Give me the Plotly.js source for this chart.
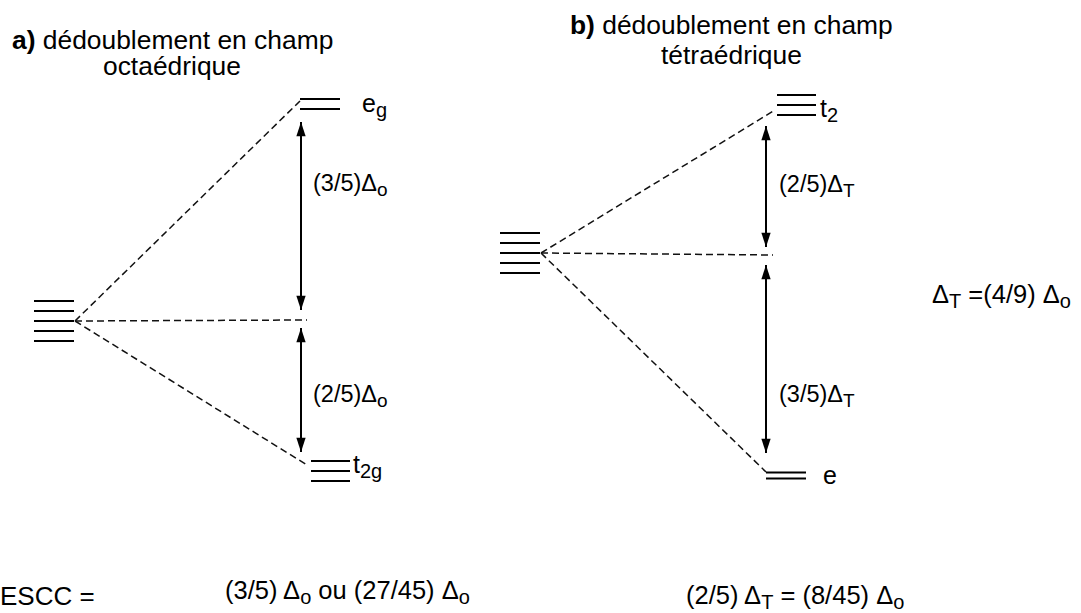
<!DOCTYPE html>
<html>
<head>
<meta charset="utf-8">
<script src="https://cdn.plot.ly/plotly-3.0.1.min.js"></script>
<style>
html, body { margin: 0; padding: 0; background: #ffffff; }
#chart { width: 1081px; height: 613px; }
</style>
</head>
<body>
<div id="chart"></div>
<script>
// ---------------- values ----------------
// Energies are in figure units (higher value = higher energy).
// a) octahedral field: free ion (5 d orbitals), e_g, t_2g
const octaLevelNames = ['', 'e<sub>g</sub>', 't<sub>2g</sub>'];
const octaLevelEnergy = [292, 509, 142];
const octaLevelDegeneracy = [5, 2, 3];
const octaGapLabels = ['(3/5)Δ<sub>o</sub>', '(2/5)Δ<sub>o</sub>'];
const octaArrowTop = [491, 285];
const octaArrowBottom = [303, 161];
const octaConnectorEnd = [512, 293, 148];   // e_g, barycentre, t_2g

// b) tetrahedral field: free ion (5 d orbitals), t_2, e
const tetraLevelNames = ['', 't<sub>2</sub>', 'e'];
const tetraLevelEnergy = [360, 508, 137.5];
const tetraLevelDegeneracy = [5, 3, 2];
const tetraGapLabels = ['(2/5)Δ<sub>T</sub>', '(3/5)Δ<sub>T</sub>'];
const tetraArrowTop = [487, 348];
const tetraArrowBottom = [366, 160];
const tetraConnectorEnd = [503, 358, 141];  // t_2, barycentre, e

// texts
const titleA = ['<b>a)</b> dédoublement en champ', 'octaédrique'];
const titleB = ['<b>b)</b> dédoublement en champ', 'tétraédrique'];
const relationText = 'Δ<sub>T</sub> =(4/9) Δ<sub>o</sub>';
const esccLabel = 'ESCC =';
const esccOcta = '(3/5) Δ<sub>o</sub> ou (27/45) Δ<sub>o</sub>';
const esccTetra = '(2/5) Δ<sub>T</sub> = (8/45) Δ<sub>o</sub>';

// ---------------- layout (positions & styles) ----------------
const W = 1081, H = 613;
const FONT = 'Liberation Sans, Arial, Helvetica, sans-serif';
const E = py => H - py;  // convert a top-down figure offset to the energy axis

const octaGeom = {
  levelX: [[34, 74], [300, 340], [311, 350]],
  spacing: [10, 10, 10],
  apexX: 75,
  connectorEndX: [300, 307, 307],
  arrowX: 301,
  labelX: [0, 360, 351],
  labelDy: [0, -1, 5],
  gapLabelX: 311,
  gapLabelY: [E(185), E(396)]
};
const tetraGeom = {
  levelX: [[500, 540], [777, 816], [766, 806]],
  spacing: [10, 10, 6],
  apexX: 541,
  connectorEndX: [775, 773, 766],
  arrowX: 766,
  labelX: [0, 818, 821],
  labelDy: [0, -5, 1],
  gapLabelX: 777,
  gapLabelY: [E(186), E(396)]
};

const traces = [];

function addDiagram(names, energy, deg, arrowTop, arrowBottom, connEnd, g) {
  // energy levels (one short line per orbital)
  const lx = [], ly = [];
  energy.forEach((en, i) => {
    for (let k = 0; k < deg[i]; k++) {
      const y = en + g.spacing[i] * ((deg[i] - 1) / 2 - k);
      lx.push(g.levelX[i][0], g.levelX[i][1], null);
      ly.push(y, y, null);
    }
  });
  traces.push({x: lx, y: ly, mode: 'lines', type: 'scatter', hoverinfo: 'skip',
    line: {color: '#000', width: 2.2}, showlegend: false});

  // dashed correlation lines from the free-ion level
  const dx = [], dy = [];
  connEnd.forEach((en, i) => {
    dx.push(g.apexX, g.connectorEndX[i], null);
    dy.push(energy[0], en, null);
  });
  traces.push({x: dx, y: dy, mode: 'lines', type: 'scatter', hoverinfo: 'skip',
    line: {color: '#111', width: 1.5, dash: '7px,4px'}, showlegend: false});

  // double-headed arrows
  arrowTop.forEach((t, i) => {
    traces.push({x: [g.arrowX, g.arrowX], y: [t, arrowBottom[i]], type: 'scatter',
      mode: 'lines+markers', hoverinfo: 'skip', showlegend: false,
      line: {color: '#000', width: 2},
      marker: {symbol: 'arrow', size: 15, color: '#000', angle: [0, 180]}});
  });
}

addDiagram(octaLevelNames, octaLevelEnergy, octaLevelDegeneracy, octaArrowTop, octaArrowBottom, octaConnectorEnd, octaGeom);
addDiagram(tetraLevelNames, tetraLevelEnergy, tetraLevelDegeneracy, tetraArrowTop, tetraArrowBottom, tetraConnectorEnd, tetraGeom);

const annotations = [];
function txt(text, x, y, size, xanchor, extra) {
  // subscripts drawn at ~80% of the main size (as in the reference)
  const subSize = Math.round(size * 0.8);
  const styled = text.replace(/<sub>(.*?)<\/sub>/g,
    '<sub><span style="font-size:' + subSize + 'px">$1</span></sub>');
  annotations.push(Object.assign({text: styled, x: x, y: y, xref: 'x', yref: 'y',
    showarrow: false, xanchor: xanchor || 'left', yanchor: 'middle',
    font: {family: FONT, size: size, color: '#000'}}, extra || {}));
}

// level names and gap labels
function labelDiagram(names, energy, gapLabels, g) {
  names.forEach((n, i) => { if (n) txt(n, g.labelX[i], energy[i] + g.labelDy[i], 25); });
  gapLabels.forEach((t, i) => txt(t, g.gapLabelX, g.gapLabelY[i], 23.5));
}
labelDiagram(octaLevelNames, octaLevelEnergy, octaGapLabels, octaGeom);
labelDiagram(tetraLevelNames, tetraLevelEnergy, tetraGapLabels, tetraGeom);

// titles
txt(titleA[0], 172, E(40), 26.4, 'center');
txt(titleA[1], 172, E(66), 26.4, 'center');
txt(titleB[0], 731, E(25), 26.4, 'center');
txt(titleB[1], 731, E(55), 26.4, 'center');

// relation and crystal-field stabilisation energies
txt(relationText, 930, E(296), 25.5);
txt(esccLabel, 0, E(596), 26, 'left', {xshift: -2});
txt(esccOcta, 223, E(592), 25.5);
txt(esccTetra, 684, E(597), 25.5);

const layout = {
  width: W, height: H,
  margin: {l: 0, r: 0, t: 0, b: 0, pad: 0},
  paper_bgcolor: '#ffffff', plot_bgcolor: '#ffffff',
  xaxis: {range: [0, W], visible: false, fixedrange: true},
  yaxis: {range: [0, H], visible: false, fixedrange: true},
  annotations: annotations,
  showlegend: false,
  font: {family: FONT, color: '#000'}
};

Plotly.newPlot('chart', traces, layout, {displayModeBar: false, staticPlot: true});
</script>
</body>
</html>
